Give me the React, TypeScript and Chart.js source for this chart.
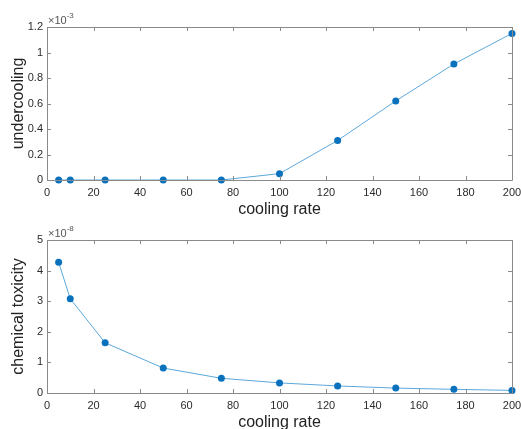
import React, { useEffect, useRef } from "react";
import { Chart, registerables } from "chart.js";

Chart.register(...registerables);

// Cooling rates used in the simulation sweep
const coolingRate = [5, 10, 25, 50, 75, 100, 125, 150, 175, 200];
// Undercooling, in units of 1e-3
const undercooling = [0, 0, 0, 0, 0, 0.05, 0.31, 0.62, 0.91, 1.15];
// Chemical toxicity, in units of 1e-8
const chemicalToxicity = [4.27, 3.08, 1.64, 0.815, 0.48, 0.33, 0.23, 0.16, 0.12, 0.085];

const xTickStep = 20;
const xRange = [0, 200];
const undercoolingRange = [0, 1.2];
const undercoolingStep = 0.2;
const toxicityRange = [0, 5];
const toxicityStep = 1;

const FONT = "'Liberation Sans', Arial, Helvetica, sans-serif";
const TEXT = "#2b2b2b";
const FRAME = "#8a8a8a";
const LINE = "#5ba8da";
const MARKER = "#0a72bd";

// Draws the boxed axes with inward ticks and the exponent multiplier label
const frameKit = {
  id: "frameKit",
  afterDraw(chart: any, _args: any, opts: any) {
    const { ctx, chartArea: a, scales } = chart;
    const xs = scales.x;
    const ys = scales.y;
    const tl = 4;
    ctx.save();
    ctx.strokeStyle = FRAME;
    ctx.lineWidth = 1;
    ctx.beginPath();
    ctx.rect(Math.round(a.left) + 0.5, Math.round(a.top) + 0.5, Math.round(a.right - a.left), Math.round(a.bottom - a.top));
    xs.ticks.forEach((t: any) => {
      const px = Math.round(xs.getPixelForValue(t.value)) + 0.5;
      ctx.moveTo(px, a.bottom);
      ctx.lineTo(px, a.bottom - tl);
      ctx.moveTo(px, a.top);
      ctx.lineTo(px, a.top + tl);
    });
    ys.ticks.forEach((t: any) => {
      const py = Math.round(ys.getPixelForValue(t.value)) + 0.5;
      ctx.moveTo(a.left, py);
      ctx.lineTo(a.left + tl, py);
      ctx.moveTo(a.right, py);
      ctx.lineTo(a.right - tl, py);
    });
    ctx.stroke();

    // multiplier such as ×10^-3
    ctx.fillStyle = "#555";
    ctx.textBaseline = "middle";
    ctx.textAlign = "left";
    ctx.font = `11px ${FONT}`;
    const base = "\u00d710";
    const bx = a.left + 1;
    ctx.fillText(base, bx, a.top - 6);
    const w = ctx.measureText(base).width;
    ctx.font = `8px ${FONT}`;
    ctx.fillText(opts.exponent, bx + w, a.top - 11.5);
    ctx.restore();
  },
};

function buildConfig(
  values: number[],
  yTitle: string,
  yRange: number[],
  yStep: number,
  exponent: string,
  xAxisHeight: number,
  xTitlePad: number
): any {
  return {
    type: "line",
    data: {
      datasets: [
        {
          data: coolingRate.map((x, i) => ({ x, y: values[i] })),
          borderColor: LINE,
          borderWidth: 1,
          pointBackgroundColor: MARKER,
          pointBorderColor: MARKER,
          pointRadius: 3.5,
          pointBorderWidth: 0,
          tension: 0,
          clip: false,
        },
      ],
    },
    options: {
      animation: false,
      responsive: false,
      maintainAspectRatio: false,
      layout: { padding: { top: 0, right: 9, left: 0, bottom: 0 } },
      plugins: {
        legend: { display: false },
        tooltip: { enabled: false },
        frameKit: { exponent },
      },
      scales: {
        x: {
          type: "linear",
          min: xRange[0],
          max: xRange[1],
          grid: { display: false, drawTicks: false },
          border: { display: false },
          ticks: {
            stepSize: xTickStep,
            autoSkip: false,
            maxRotation: 0,
            padding: 6,
            color: TEXT,
            font: { family: FONT, size: 11 },
          },
          title: {
            display: true,
            text: "cooling rate",
            color: "#222",
            font: { family: FONT, size: 16 },
            padding: { top: 0, bottom: xTitlePad },
          },
          afterFit(s: any) {
            s.height = xAxisHeight;
            s.paddingLeft = 0;
            s.paddingRight = 0;
          },
        },
        y: {
          min: yRange[0],
          max: yRange[1],
          grid: { display: false, drawTicks: false },
          border: { display: false },
          ticks: {
            stepSize: yStep,
            padding: 4,
            color: TEXT,
            font: { family: FONT, size: 11 },
            callback: (v: number) => String(Math.round(v * 10) / 10),
          },
          title: {
            display: true,
            text: yTitle,
            color: "#222",
            font: { family: FONT, size: 16 },
            padding: { top: 9, bottom: 0 },
          },
          afterFit(s: any) {
            s.width = 47;
            s.paddingTop = 0;
            s.paddingBottom = 0;
          },
        },
      },
    },
    plugins: [frameKit],
  };
}

function Panel(props: { config: any; top: number; height: number; padTop: number }) {
  const ref = useRef<HTMLCanvasElement | null>(null);
  useEffect(() => {
    if (!ref.current) return;
    const cfg = props.config;
    cfg.options.layout.padding.top = props.padTop;
    const chart = new Chart(ref.current, cfg);
    return () => chart.destroy();
  }, []);
  return (
    <canvas
      ref={ref}
      width={521}
      height={props.height}
      style={{ position: "absolute", left: 0, top: props.top, width: 521, height: props.height }}
    />
  );
}

export default function App() {
  return (
    <div
      style={{
        position: "absolute",
        left: 0,
        top: 0,
        width: 521,
        height: 429,
        overflow: "hidden",
        background: "#fff",
      }}
    >
      <Panel
        config={buildConfig(undercooling, "undercooling", undercoolingRange, undercoolingStep, "-3", 40, 1)}
        top={0}
        height={220}
        padTop={27}
      />
      <Panel
        config={buildConfig(chemicalToxicity, "chemical toxicity", toxicityRange, toxicityStep, "-8", 41, 1.7)}
        top={220}
        height={214}
        padTop={20}
      />
    </div>
  );
}
